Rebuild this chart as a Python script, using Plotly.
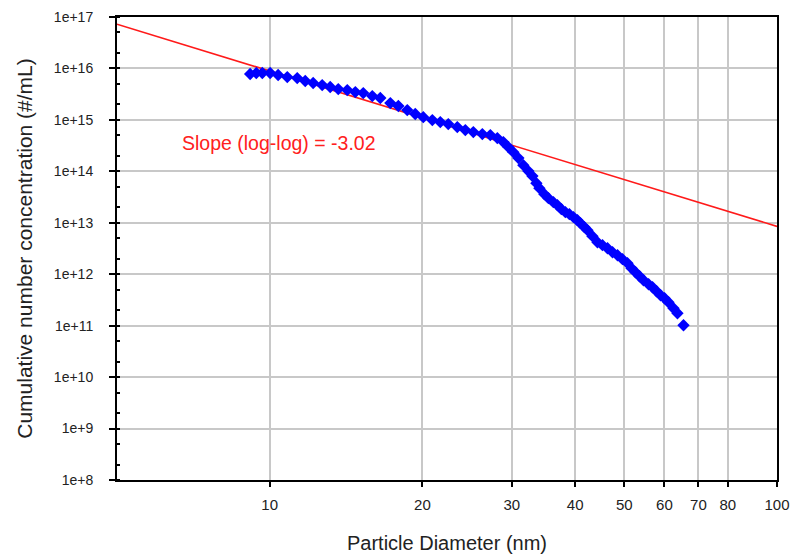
import plotly.graph_objects as go
import numpy as np

# Measured data: particle diameter (nm) and cumulative number concentration (#/mL)
diameter_nm = [9.15, 9.41, 9.67, 10.02, 10.39, 10.83, 11.33, 11.75, 12.18, 12.69,
               13.16, 13.65, 14.22, 14.75, 15.29, 15.93, 16.52, 17.29, 17.93, 18.67,
               19.36, 20.08, 20.92, 21.69, 22.49, 23.43, 24.30, 25.20, 26.25, 27.22,
               28.10, 28.88, 29.54, 30.22, 30.92, 31.62, 32.35, 32.95, 33.55, 34.01,
               34.79, 35.43, 36.24, 36.91, 37.58, 38.27, 38.97, 39.69, 40.42, 40.97,
               41.73, 42.30, 43.27, 44.27, 45.29, 46.33, 47.40, 48.49, 49.59, 50.73,
               51.66, 52.61, 53.58, 54.56, 55.82, 56.84, 57.88, 58.95, 60.03, 61.10,
               62.51, 63.65, 65.42]
concentration = [7.78e15, 8.14e15, 8.14e15, 8.14e15, 7.44e15, 6.80e15, 6.50e15, 5.69e15, 5.20e15, 4.75e15,
                 4.35e15, 3.97e15, 3.80e15, 3.47e15, 3.32e15, 2.90e15, 2.66e15, 2.12e15, 1.86e15, 1.55e15,
                 1.30e15, 1.13e15, 9.9e14, 9.06e14, 8.28e14, 7.24e14, 6.33e14, 5.79e14, 5.29e14, 5.06e14,
                 4.43e14, 3.70e14, 2.96e14, 2.36e14, 1.81e14, 1.32e14, 1.01e14, 8.07e13, 5.89e13, 4.71e13,
                 3.60e13, 3.01e13, 2.52e13, 2.20e13, 1.84e13, 1.61e13, 1.47e13, 1.29e13, 1.12e13, 9.82e12,
                 8.21e12, 7.18e12, 5.49e12, 4.19e12, 3.67e12, 3.20e12, 2.68e12, 2.34e12, 1.96e12, 1.64e12,
                 1.31e12, 1.09e12, 9.14e11, 7.64e11, 6.39e11, 5.59e11, 4.67e11, 3.90e11, 3.41e11, 2.85e11,
                 2.18e11, 1.74e11, 1.02e11]

# Power-law fit (log-log)
fit_slope = -3.02
fit_log_intercept = 18.97
fit_x = [5, 100]

x_tickvals = [10, 20, 30, 40, 50, 60, 70, 80, 100]
x_ticktext = ["10", "20", "30", "40", "50", "60", "70", "80", "100"]
y_tickvals = [1e8, 1e9, 1e10, 1e11, 1e12, 1e13, 1e14, 1e15, 1e16, 1e17]
y_ticktext = ["1e+8", "1e+9", "1e+10", "1e+11", "1e+12", "1e+13", "1e+14", "1e+15", "1e+16", "1e+17"]

fit_y = [10 ** (fit_log_intercept + fit_slope * np.log10(v)) for v in fit_x]

FONT = "Liberation Sans, Arial, sans-serif"
TXT = "#222222"

fig = go.Figure()
fig.add_trace(go.Scatter(x=fit_x, y=fit_y, mode="lines",
                         line=dict(color="#ff1a1a", width=1.6), showlegend=False))
fig.add_trace(go.Scatter(x=diameter_nm, y=concentration, mode="markers",
                         marker=dict(symbol="diamond", size=9.5, color="#0000ff",
                                     line=dict(width=0)),
                         showlegend=False))

fig.update_layout(
    width=790, height=555,
    margin=dict(l=117, r=13, t=17, b=75),
    paper_bgcolor="white", plot_bgcolor="white",
    font=dict(family=FONT, color=TXT),
    xaxis=dict(type="log", range=[np.log10(5), 2], automargin=False,
               tickvals=x_tickvals, ticktext=x_ticktext,
               tickfont=dict(size=15, color=TXT), ticklabelstandoff=5,
               showgrid=True, gridcolor="#c8c8c8", gridwidth=2,
               showline=True, linecolor="black", linewidth=2, mirror=True,
               ticks="outside", ticklen=5, tickwidth=2, tickcolor="black",
               zeroline=False,
               title=dict(text="Particle Diameter (nm)", font=dict(size=20, color=TXT),
                          standoff=24)),
    yaxis=dict(type="log", range=[8, 17], automargin=False,
               tickvals=y_tickvals, ticktext=y_ticktext,
               tickfont=dict(size=14, color=TXT), ticklabelstandoff=13,
               showgrid=True, gridcolor="#c8c8c8", gridwidth=2,
               showline=True, linecolor="black", linewidth=2, mirror=True,
               ticks="outside", ticklen=6, tickwidth=2, tickcolor="black",
               minor=dict(ticks="inside", ticklen=3, tickwidth=1.5, tickcolor="black",
                          showgrid=False),
               zeroline=False,
               title=dict(text="Cumulative number concentration (#/mL)",
                          font=dict(size=21, color=TXT), standoff=16)),
)

fig.add_annotation(x=0.2455, y=0.728, xref="paper", yref="paper",
                   text="Slope (log-log) = -3.02", showarrow=False,
                   xanchor="center", yanchor="middle",
                   font=dict(size=19.5, color="#ff2020", family=FONT))

fig.write_html("out.html")
